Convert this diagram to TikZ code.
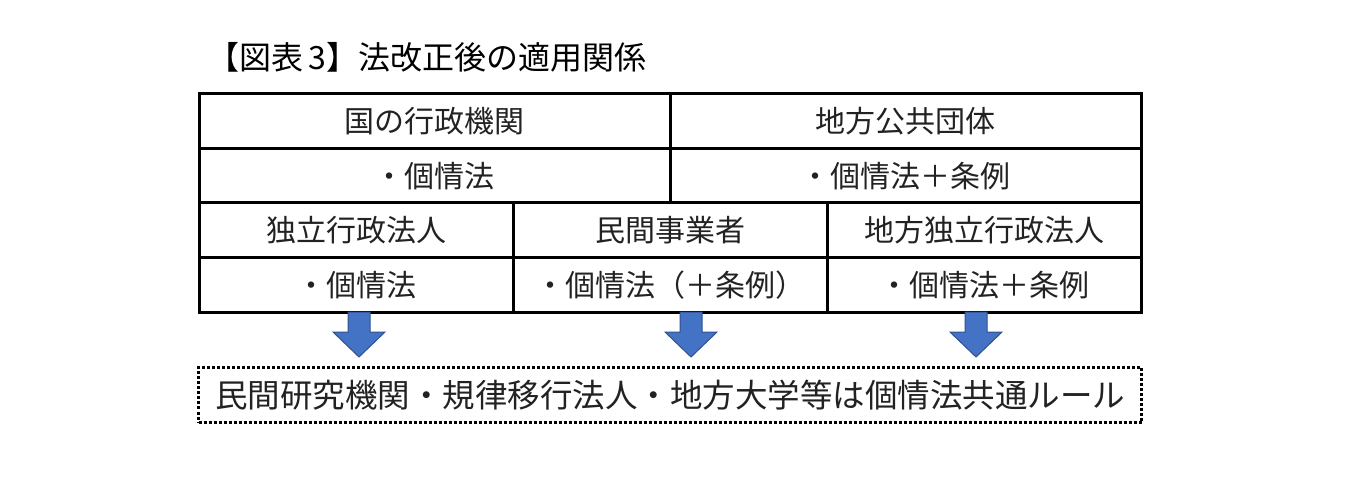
\documentclass[tikz,border=0pt]{standalone}
\usepackage{fontspec}
\setmainfont{Noto Sans CJK JP}
\usetikzlibrary{positioning}
\definecolor{arrowfill}{HTML}{4472C4}
\definecolor{arrowline}{HTML}{2F528F}
\definecolor{textgray}{HTML}{222222}
\tikzset{
  cell/.style={draw, line width=3pt, minimum width=471pt, minimum height=54.5pt,
    inner sep=0pt, outer sep=0pt, text=textgray, font=\fontsize{30}{34}\selectfont},
  cellthird/.style={cell, minimum width=314pt},
  rulebox/.style={draw, line width=2.2pt, dash pattern=on 3pt off 2pt, minimum width=943pt,
    minimum height=55pt, inner sep=0pt, text=textgray, font=\fontsize{32.5}{36}\selectfont},
  blockarrow/.style={fill=arrowfill, draw=arrowline, line width=1pt, line join=miter}
}
\begin{document}
\begin{tikzpicture}[x=1pt,y=-1pt]
\useasboundingbox (0,0) rectangle (1346,478);
% title
\node (title) at (427,57) {\fontsize{32}{35}\selectfont 【図表\,3】法改正後の適用関係};
% upper table
\node[cell, anchor=north west] (kuni) at (199,94) {国の行政機関};
\node[cell, right=0pt of kuni] (chiho) {地方公共団体};
\node[cell, below=0pt of kuni] (kuniho) {・個情法};
\node[cell, below=0pt of chiho] (chihoho) {・個情法＋条例};
% lower table
\node[cellthird, anchor=north west] (dokuritsu) at (199,203) {独立行政法人};
\node[cellthird, right=0pt of dokuritsu] (minkan) {民間事業者};
\node[cellthird, right=0pt of minkan] (chihodoku) {地方独立行政法人};
\node[cellthird, below=0pt of dokuritsu] (dokuritsuho) {・個情法};
\node[cellthird, below=0pt of minkan] (minkanho) {・個情法（＋条例）};
\node[cellthird, below=0pt of chihodoku] (chihodokuho) {・個情法＋条例};
% common rule
\node[rulebox] (rule) at (670,395) {民間研究機関・規律移行法人・地方大学等は個情法共通ルール};
% arrows
\foreach \x in {359,691,976}
  \filldraw[blockarrow] (\x-11,312) -- (\x+11,312) -- (\x+11,332) -- (\x+26,332)
    -- (\x,357) -- (\x-26,332) -- (\x-11,332) -- cycle;
\end{tikzpicture}
\end{document}
